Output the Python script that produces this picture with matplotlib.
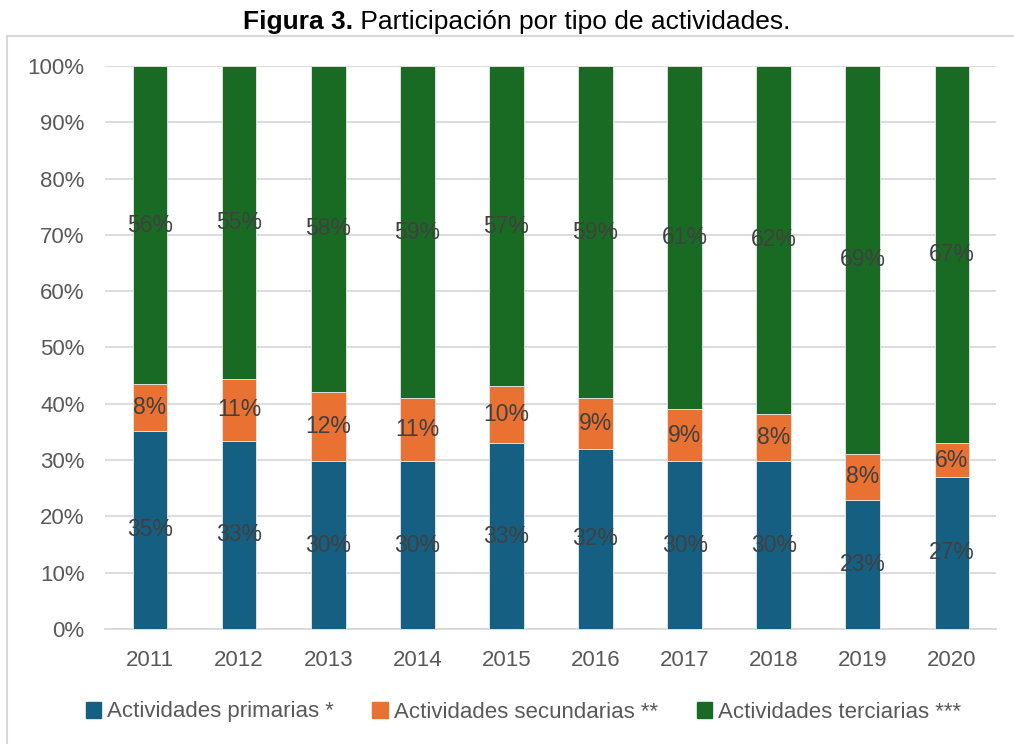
import numpy as np
import matplotlib.pyplot as plt
from matplotlib.lines import Line2D

years = ['2011', '2012', '2013', '2014', '2015', '2016', '2017', '2018', '2019', '2020']
# shares (percent of total)
primarias = [35.2, 33.4, 29.8, 29.8, 33.0, 32.0, 29.8, 29.8, 22.9, 27.0]
secundarias = [8.3, 11.0, 12.3, 11.2, 10.1, 9.0, 9.2, 8.4, 8.2, 6.0]
terciarias = [56.5, 55.6, 57.9, 59.0, 56.9, 59.0, 61.0, 61.8, 68.9, 67.0]
labels_prim = ['35%', '33%', '30%', '30%', '33%', '32%', '30%', '30%', '23%', '27%']
labels_sec = ['8%', '11%', '12%', '11%', '10%', '9%', '9%', '8%', '8%', '6%']
labels_ter = ['56%', '55%', '58%', '59%', '57%', '59%', '61%', '62%', '69%', '67%']
series_names = ['Actividades primarias *', 'Actividades secundarias **', 'Actividades terciarias ***']

colors = ['#156082', '#E97132', '#196B24']
plt.rcParams['font.family'] = ['Liberation Sans', 'DejaVu Sans']

fig = plt.figure(figsize=(10.14, 7.44), dpi=100)
ax = fig.add_axes([0.104, 0.1546, 0.8787, 0.7567])

x = np.arange(len(years))
bottom = np.zeros(len(years))
for vals, labs, col in zip([primarias, secundarias, terciarias],
                           [labels_prim, labels_sec, labels_ter], colors):
    vals = np.array(vals)
    bars = ax.bar(x, vals, 0.39, bottom=bottom, color=col,
                  edgecolor='#e8e8e8', linewidth=0.6, zorder=3)
    ax.bar_label(bars, labels=labs, label_type='center', fontsize=16.5,
                 color='#404040', zorder=4)
    bottom = bottom + vals

ax.set_xlim(-0.5, len(years) - 0.5)
ax.set_ylim(0, 100)
ax.set_yticks(np.arange(0, 101, 10))
ax.set_yticklabels([f'{v}%' for v in range(0, 101, 10)])
ax.set_xticks(x)
ax.set_xticklabels(years)
ax.yaxis.grid(True, color='#d9d9d9', linewidth=1.3, zorder=0)
ax.set_axisbelow(True)
for s in ['top', 'right', 'left']:
    ax.spines[s].set_visible(False)
ax.spines['bottom'].set_color('#d9d9d9')
ax.spines['bottom'].set_linewidth(1.3)
ax.tick_params(axis='both', length=0, labelsize=16, labelcolor='#595959')
ax.tick_params(axis='y', pad=15)
ax.tick_params(axis='x', pad=15)

# outer chart frame (top and left edges visible)
fig.add_artist(Line2D([0.007, 1.0], [1 - 36 / 744, 1 - 36 / 744], color='#d9d9d9', lw=1.5))
fig.add_artist(Line2D([0.007, 0.007], [0.0, 1 - 36 / 744], color='#d9d9d9', lw=1.5))

# title: bold prefix + regular text
fig.canvas.draw()
r = fig.canvas.get_renderer()
t1 = fig.text(0, 0, 'Figura 3.', fontsize=19, fontweight='bold', color='black')
t2 = fig.text(0, 0, ' Participación por tipo de actividades.', fontsize=19, color='black')
w1 = t1.get_window_extent(r).width
w2 = t2.get_window_extent(r).width
x0 = (517 - (w1 + w2) / 2) / 1014
yt = 1 - 29 / 744
t1.set_position((x0, yt))
t2.set_position((x0 + w1 / 1014, yt))

handles = [plt.Rectangle((0, 0), 1, 1, color=c) for c in colors]
fig.legend(handles, series_names, loc='center', bbox_to_anchor=(0.516, 1 - 712 / 744),
           ncol=3, frameon=False, labelcolor='#595959',
           handlelength=0.7, handleheight=0.7, handletextpad=0.25, columnspacing=1.75,
           prop={'family': ['Liberation Sans Narrow', 'Liberation Sans'], 'size': 16})

fig.savefig('out.png', dpi=100)
